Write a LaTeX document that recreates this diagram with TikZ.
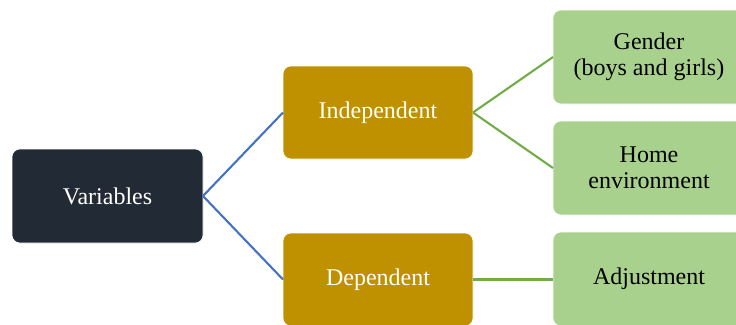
\documentclass[tikz,border=0pt]{standalone}
\usepackage{fontspec}
\setmainfont{Liberation Serif}
\usepackage{xcolor}
\usetikzlibrary{positioning}

\definecolor{navy}{HTML}{222A35}
\definecolor{gold}{HTML}{BF9000}
\definecolor{leaf}{HTML}{A9D18E}
\definecolor{linkblue}{HTML}{4472C4}
\definecolor{linkgreen}{HTML}{70AD47}

\begin{document}
\begin{tikzpicture}[x=1pt, y=1pt, node distance=80pt]

	% Define styles
	\tikzset{
		box/.style={
			rectangle, rounded corners=8pt, draw=white, line width=0.6pt,
			minimum width=190pt, minimum height=93pt,
			inner sep=0pt, outer sep=0pt, align=center,
			font=\fontsize{24}{25.5}\selectfont
		},
		rootbox/.style={box, fill=navy, text=white, minimum width=191pt, minimum height=94pt},
		groupbox/.style={box, fill=gold, text=white},
		itembox/.style={box, fill=leaf, text=black, minimum width=192pt, minimum height=94pt},
		blueline/.style={draw=linkblue, line width=2.1pt},
		greenline/.style={draw=linkgreen, line width=2.1pt}
	}

	% Frame of the picture
	\path[use as bounding box, clip] (0,0) rectangle (736,-324);

	% Root
	\node (var) [rootbox] at (107.5,-196) {Variables};

	% Groups
	\node (indep) [groupbox, right=of var, yshift=83.5pt] {Independent};
	\node (dep)   [groupbox, right=of var, yshift=-83.5pt] {Dependent};

	% Items
	\node (gender) [itembox, right=of indep, yshift=55.5pt] {Gender\\(boys and girls)};
	\node (home)   [itembox, right=of indep, yshift=-55.5pt] {Home\\environment};
	\node (adjust) [itembox, right=of dep, yshift=0.5pt] {Adjustment};

	% Links
	\draw[blueline] (var.east) -- (indep.west);
	\draw[blueline] (var.east) -- (dep.west);
	\draw[greenline] (indep.east) -- (gender.west);
	\draw[greenline] (indep.east) -- (home.west);
	\draw[greenline] (dep.east) -- (dep.east -| adjust.west);

\end{tikzpicture}
\end{document}
